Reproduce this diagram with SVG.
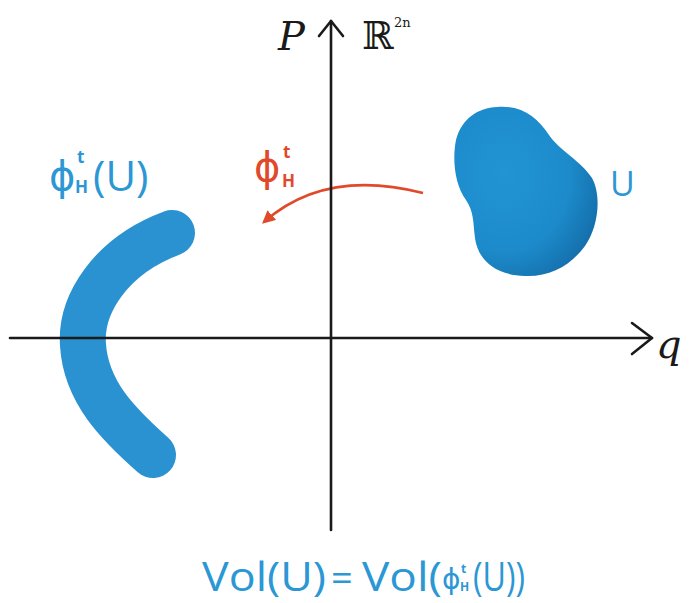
<svg xmlns="http://www.w3.org/2000/svg" width="698" height="603" viewBox="0 0 698 603">
<style>
.ax{stroke:#1a1a1a;stroke-width:2.6;fill:none;stroke-linecap:round;stroke-linejoin:round}
.lbl{font-family:"DejaVu Serif",serif;fill:#1a1a1a}
.blue{fill:#2b97d4;font-family:"Open Sans","DejaVu Sans",sans-serif}
.red{fill:#e04a2a;font-family:"Open Sans","DejaVu Sans",sans-serif}
.phi{font-family:"DejaVu Sans",sans-serif}
</style>
<defs>
<radialGradient id="blobg" cx="0.35" cy="0.4" r="0.75">
<stop offset="0" stop-color="#2194d4"/>
<stop offset="0.6" stop-color="#1d8bcb"/>
<stop offset="1" stop-color="#136aa6"/>
</radialGradient>
<marker id="redhead" viewBox="0 0 10 10" refX="8" refY="5" markerWidth="5" markerHeight="5" orient="auto" markerUnits="strokeWidth">
<path d="M0,0 L10,5 L0,10 Z" fill="#e04a2a"/>
</marker>
</defs>
<rect width="698" height="603" fill="#ffffff"/>
<g id="region-image">
<path d="M172 233 C110 256 80 305 83 345 C86 392 118 424 153 455" fill="none" stroke="#2a92d0" stroke-width="46" stroke-linecap="round"/>
</g>
<g id="region-U">
<path d="M497 107 C522 105 537 117 549 135 C559 150 581 161 592 178 C602 196 598 228 585 246 C570 266 550 277 525 276 C495 275 478 260 475 238 C473 222 474 212 466 200 C455 185 452 160 456 140 C462 118 478 108 497 107 Z" fill="url(#blobg)"/>
</g>
<g id="connectors">
<path d="M423 193 Q325 168 264 222" fill="none" stroke="#e04a2a" stroke-width="2.6" marker-end="url(#redhead)"/>
<path class="ax" d="M331 530 L331 21"/>
<path class="ax" d="M319 36 L331 21 L343 36"/>
<path class="ax" d="M10 338 L652 338"/>
<path class="ax" d="M632 323 L652 338 L632 354"/>
</g>
<g id="labels">
<text class="lbl" x="278" y="50" font-size="40" font-style="italic">P</text>
<text class="lbl" x="362" y="49" font-size="38">ℝ</text>
<text class="lbl" x="394" y="27" font-size="13">2n</text>
<text class="lbl" x="656" y="358" font-size="40" font-style="italic">q</text>
<text class="blue" x="610" y="196" font-size="34">U</text>
<text class="red phi" x="254" y="181" font-size="40">ϕ</text>
<text class="red" x="283" y="158" font-size="17" font-weight="bold">t</text>
<text class="red" x="282" y="187" font-size="17" font-weight="bold">H</text>
<text class="blue phi" x="49" y="190" font-size="40">ϕ</text>
<text class="blue" x="77" y="163" font-size="17" font-weight="bold">t</text>
<text class="blue" x="75" y="193" font-size="17" font-weight="bold">H</text>
<text class="blue" x="93" y="191" font-size="42">(U)</text>
<text class="blue" x="202" y="591" font-size="40" textLength="124" lengthAdjust="spacingAndGlyphs">Vol(U)</text>
<text class="blue" x="331" y="591" font-size="38">=</text>
<text class="blue" x="362" y="591" font-size="40" textLength="80" lengthAdjust="spacingAndGlyphs">Vol(</text>
<text class="blue phi" x="442" y="589" font-size="28">ϕ</text>
<text class="blue" x="461" y="573" font-size="12" font-weight="bold">t</text>
<text class="blue" x="460" y="591" font-size="12" font-weight="bold">H</text>
<text class="blue" x="473" y="591" font-size="40" textLength="52" lengthAdjust="spacingAndGlyphs">(U))</text>
</g>
</svg>
